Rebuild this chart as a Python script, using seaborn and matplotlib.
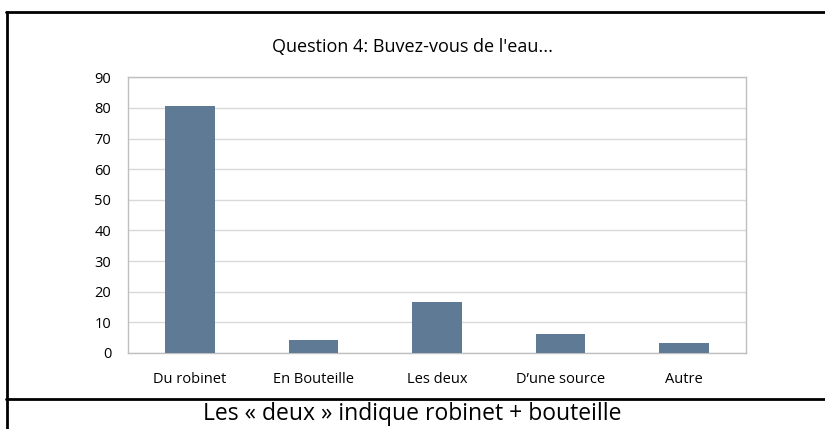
import matplotlib
matplotlib.use('Agg')
import matplotlib.pyplot as plt
import seaborn as sns
import pandas as pd
from matplotlib.lines import Line2D

categories = ['Du robinet', 'En Bouteille', 'Les deux', 'D\u2019une source', 'Autre']
values = [80.7, 4.4, 16.6, 6.3, 3.2]
y_ticks = [0, 10, 20, 30, 40, 50, 60, 70, 80, 90]
title = "Question 4: Buvez-vous de l'eau..."
caption = 'Les \u00ab deux \u00bb indique robinet + bouteille'

sns.set_style('white')
plt.rcParams['font.family'] = ['Open Sans', 'DejaVu Sans']

df = pd.DataFrame({'reponse': categories, 'n': values})

fig = plt.figure(figsize=(8.25, 4.29), dpi=100)
ax = fig.add_axes([0.1552, 0.1772, 0.7487, 0.6426])

sns.barplot(data=df, x='reponse', y='n', color='#5F7A94', saturation=1,
            width=0.4, linewidth=0, ax=ax, zorder=3)

ax.set_ylim(0, 90)
ax.set_yticks(y_ticks)
ax.yaxis.grid(True, color='#D9D9D9', linewidth=1, zorder=0)
ax.set_axisbelow(True)
ax.set_xlabel('')
ax.set_ylabel('')
for side in ['left', 'top', 'right', 'bottom']:
    ax.spines[side].set_visible(True)
    ax.spines[side].set_color('#BFBFBF')
    ax.spines[side].set_linewidth(1)
ax.tick_params(axis='both', length=0, labelsize=10.5, colors='black')
ax.tick_params(axis='y', pad=12)
ax.tick_params(axis='x', pad=14)

fig.text(0.5, 1 - 47 / 429, title, ha='center', va='center', fontsize=13,
         color='black')
fig.text(0.5, 1 - 414 / 429, caption, ha='center', va='center', fontsize=16.5,
         color='black')

# frame around the chart and caption
W, H = 825, 429
fig.add_artist(Line2D([6.5 / W, 6.5 / W], [0, 1 - 12 / H], color='black', lw=2,
                      transform=fig.transFigure))
fig.add_artist(Line2D([6 / W, 1], [1 - 12 / H, 1 - 12 / H], color='black', lw=2,
                      transform=fig.transFigure))
fig.add_artist(Line2D([6 / W, 1], [1 - 398.7 / H, 1 - 398.7 / H], color='black', lw=2,
                      transform=fig.transFigure))

fig.savefig('out.png', dpi=100)
